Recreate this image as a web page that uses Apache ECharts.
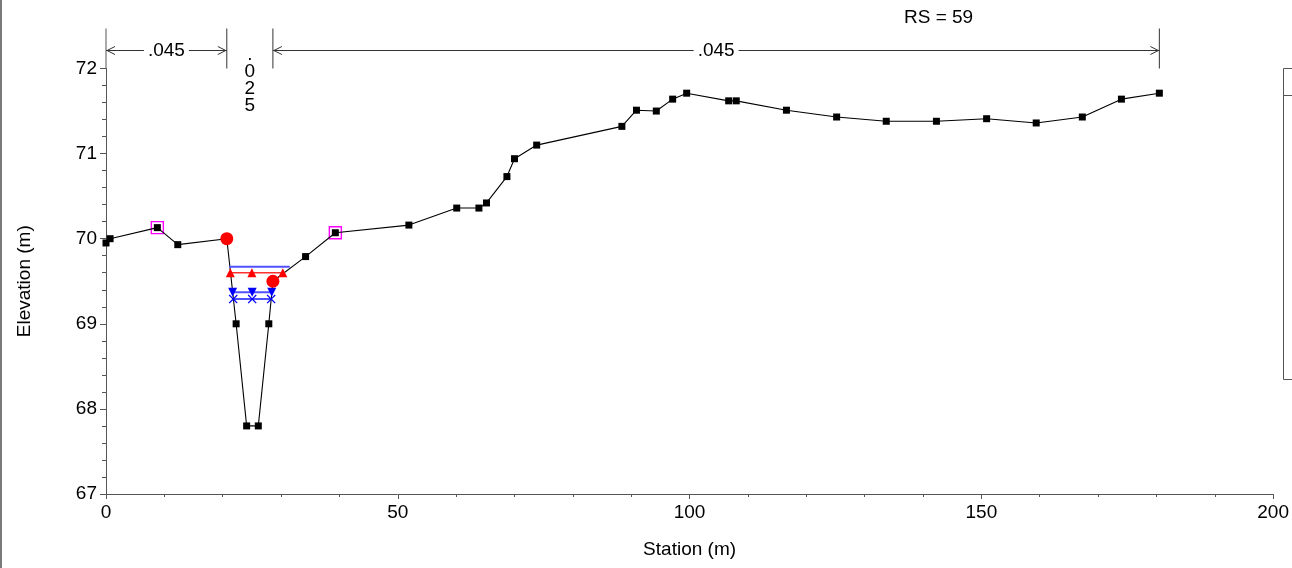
<!DOCTYPE html>
<html><head><meta charset="utf-8">
<script src="https://cdn.jsdelivr.net/npm/echarts@6/dist/echarts.min.js"></script>
<style>html,body{margin:0;padding:0;background:#fff}#c{width:1292px;height:568px}</style>
</head><body><div id="c"></div>
<script>
// Ground profile
const station = [0, 0.7, 8.8, 12.3, 20.7, 22.3, 24.1, 26.1, 27.9, 28.6, 34.2, 39.3, 51.9, 60.1, 63.9, 65.2, 68.7, 70.0, 73.8, 88.4, 90.9, 94.3, 97.1, 99.5, 106.7, 108.0, 116.6, 125.2, 133.7, 142.3, 150.9, 159.4, 167.3, 174.0, 180.5];
const elevation = [69.95, 70.0, 70.13, 69.93, 70.0, 69.0, 67.8, 67.8, 69.0, 69.5, 69.79, 70.07, 70.16, 70.36, 70.36, 70.42, 70.73, 70.94, 71.10, 71.32, 71.51, 71.50, 71.64, 71.71, 71.62, 71.62, 71.51, 71.43, 71.38, 71.38, 71.41, 71.36, 71.43, 71.64, 71.71];
// Bank stations
const bankStation = [20.7, 28.6];
const bankElev = [70.0, 69.5];
// Levee / ineffective markers
const leveeStation = [8.8, 39.3];
const leveeElev = [70.13, 70.07];
// Water surfaces
const ws1Station = [21.1, 31.5];
const ws1Elev = [69.67, 69.67];
const ws2Station = [21.3, 25.0, 30.3];
const ws2Elev = [69.60, 69.60, 69.60];
const ws3Station = [21.7, 25.05, 28.4];
const ws3Elev = [69.37, 69.37, 69.37];
const ws4Station = [21.8, 25.05, 28.3];
const ws4Elev = [69.29, 69.29, 69.29];
// Manning's n regions
const nBounds = [0, 20.7, 28.6, 180.5];
const nValues = ['.045', '.025', '.045'];
// Axis ticks
const xTicks = [0, 50, 100, 150, 200];
const yTicks = [67, 68, 69, 70, 71, 72];

const zip = (a, b) => a.map((v, i) => [v, Array.isArray(b) ? b[i] : b]);
const FONT = 'Liberation Sans, Arial, sans-serif';
const FS = 19;
const xMarker = 'path://M0,1L1,0L5,4L9,0L10,1L6,5L10,9L9,10L5,6L1,10L0,9L4,5Z';

const chart = echarts.init(document.getElementById('c'), null, {renderer: 'canvas'});
chart.setOption({
  animation: false,
  backgroundColor: '#fff',
  title: {text: 'RS = 59', left: 899, top: 3,
    textStyle: {fontFamily: FONT, fontSize: FS, fontWeight: 'normal', color: '#000'}},
  grid: {left: 106, right: 18, top: 68.5, bottom: 74},
  xAxis: {
    type: 'value', min: xTicks[0], max: xTicks[xTicks.length - 1], interval: 50,
    name: 'Station (m)', nameLocation: 'middle', nameGap: 46,
    nameTextStyle: {fontFamily: FONT, fontSize: FS, color: '#000'},
    axisLine: {onZero: false, lineStyle: {color: '#555', width: 1}},
    axisTick: {length: 5, lineStyle: {color: '#555'}},
    minorTick: {show: true, splitNumber: 5, length: 3, lineStyle: {color: '#555'}},
    splitLine: {show: false},
    axisLabel: {fontFamily: FONT, fontSize: FS, color: '#000', margin: 9}
  },
  yAxis: {
    type: 'value', min: yTicks[0], max: yTicks[yTicks.length - 1], interval: 1,
    name: 'Elevation (m)', nameLocation: 'middle', nameGap: 72,
    nameTextStyle: {fontFamily: FONT, fontSize: FS, color: '#000'},
    axisLine: {onZero: false, lineStyle: {color: '#555', width: 1}},
    axisTick: {length: 6, lineStyle: {color: '#555'}},
    minorTick: {show: true, splitNumber: 5, length: 4, lineStyle: {color: '#555'}},
    splitLine: {show: false},
    axisLabel: {fontFamily: FONT, fontSize: FS, color: '#000', margin: 9}
  },
  graphic: [
    {type: 'rect', shape: {x: 0, y: 0, width: 2, height: 568}, style: {fill: '#7a7a7a'}},
    {type: 'rect', shape: {x: 1283.5, y: 68.5, width: 30, height: 311}, style: {fill: 'none', stroke: '#555', lineWidth: 1}},
    {type: 'line', shape: {x1: 1283.5, y1: 95.5, x2: 1292, y2: 95.5}, style: {stroke: '#555', lineWidth: 1}}
  ],
  series: [
    {
      name: 'Manning n', type: 'custom', clip: false, z: 6,
      data: nValues.map((v, i) => [nBounds[i], nBounds[i + 1], 72.215]),
      encode: {x: [0, 1], y: 2},
      renderItem: function (params, api) {
        const i = params.dataIndex;
        const x0 = api.coord([api.value(0), 72])[0];
        const x1 = api.coord([api.value(1), 72])[0];
        const yBot = api.coord([0, 72])[1];
        const yTop = api.coord([0, 72.47])[1];
        const y = Math.round(api.coord([0, api.value(2)])[1]) + 0.5;
        const stroke = {stroke: '#333', lineWidth: 1};
        const ch = [];
        if (i === 0) ch.push({type: 'line', shape: {x1: x0, y1: yTop, x2: x0, y2: yBot}, style: {stroke: '#555', lineWidth: 1}});
        ch.push({type: 'line', shape: {x1: x1, y1: yTop, x2: x1, y2: yBot}, style: stroke});
        if (x1 - x0 > 60) {
          ch.push({type: 'line', shape: {x1: x0, y1: y, x2: x1, y2: y}, style: stroke});
          ch.push({type: 'polyline', shape: {points: [[x0 + 9, y - 4], [x0 + 1, y], [x0 + 9, y + 4]]}, style: {stroke: '#333', fill: 'none', lineWidth: 1}});
          ch.push({type: 'polyline', shape: {points: [[x1 - 9, y - 4], [x1 - 1, y], [x1 - 9, y + 4]]}, style: {stroke: '#333', fill: 'none', lineWidth: 1}});
          ch.push({type: 'text', style: {text: nValues[i], x: (x0 + x1) / 2, y: y, align: 'center', verticalAlign: 'middle',
            font: FS + 'px ' + FONT, fill: '#000', backgroundColor: '#fff', padding: [0, 4]}});
        } else {
          ch.push({type: 'text', style: {text: nValues[i].split('').join('\n'), x: (x0 + x1) / 2, y: y - 4, align: 'center', verticalAlign: 'top',
            font: FS + 'px ' + FONT, lineHeight: 17, fill: '#000'}});
        }
        return {type: 'group', children: ch};
      }
    },
    {
      name: 'Ground', type: 'line', data: zip(station, elevation), z: 3,
      symbol: 'rect', symbolSize: 7, showSymbol: true,
      lineStyle: {color: '#000', width: 1.1}, itemStyle: {color: '#000'}
    },
    {
      name: 'Levee', type: 'scatter', data: zip(leveeStation, leveeElev), z: 2,
      symbol: 'rect', symbolSize: 12,
      itemStyle: {color: 'rgba(0,0,0,0)', borderColor: '#ff00ff', borderWidth: 1.4, opacity: 1}
    },
    {
      name: 'Bank Sta', type: 'scatter', data: zip(bankStation, bankElev), z: 5,
      symbol: 'circle', symbolSize: 13, itemStyle: {color: '#ff0000', opacity: 1}
    },
    {
      name: 'WS 1', type: 'line', data: zip(ws1Station, ws1Elev), z: 4,
      symbol: 'none', lineStyle: {color: '#5050ff', width: 2}
    },
    {
      name: 'WS 2', type: 'line', data: zip(ws2Station, ws2Elev), z: 4,
      symbol: 'triangle', symbolSize: 9, showSymbol: true,
      lineStyle: {color: '#ff3030', width: 1.5}, itemStyle: {color: '#ff0000'}
    },
    {
      name: 'WS 3', type: 'line', data: zip(ws3Station, ws3Elev), z: 4,
      symbol: 'triangle', symbolRotate: 180, symbolSize: 9, showSymbol: true,
      lineStyle: {color: '#5050ff', width: 2}, itemStyle: {color: '#0000ff'}
    },
    {
      name: 'WS 4', type: 'line', data: zip(ws4Station, ws4Elev), z: 4,
      symbol: xMarker, symbolSize: 9, showSymbol: true,
      lineStyle: {color: '#5050ff', width: 2}, itemStyle: {color: '#0000ff'}
    }
  ]
});
</script>
</body></html>
